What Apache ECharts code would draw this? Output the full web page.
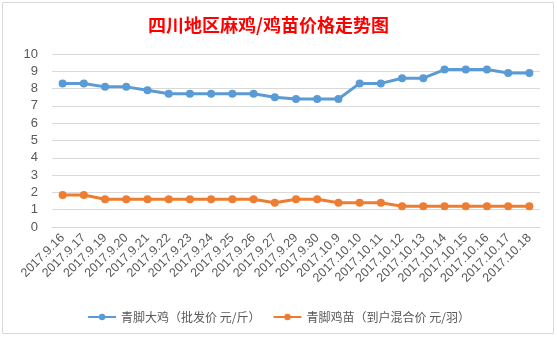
<!DOCTYPE html>
<html><head><meta charset="utf-8">
<script src="https://cdn.jsdelivr.net/npm/echarts@6/dist/echarts.min.js"></script>
<style>html,body{margin:0;padding:0;background:#fff}#c{width:557px;height:338px}</style>
</head><body><div id="c"></div>
<script>
const categories = ['2017.9.16','2017.9.17','2017.9.19','2017.9.20','2017.9.21','2017.9.22','2017.9.23','2017.9.24','2017.9.25','2017.9.26','2017.9.27','2017.9.29','2017.9.30','2017.10.9','2017.10.10','2017.10.11','2017.10.12','2017.10.13','2017.10.14','2017.10.15','2017.10.16','2017.10.17','2017.10.18'];
const broilerName = '青脚大鸡（批发价 元/斤）';
const broiler = [8.3,8.3,8.1,8.1,7.9,7.7,7.7,7.7,7.7,7.7,7.5,7.4,7.4,7.4,8.3,8.3,8.6,8.6,9.1,9.1,9.1,8.9,8.9];
const chickName = '青脚鸡苗（到户混合价 元/羽）';
const chick = [1.85,1.85,1.6,1.6,1.6,1.6,1.6,1.6,1.6,1.6,1.4,1.6,1.6,1.4,1.4,1.4,1.2,1.2,1.2,1.2,1.2,1.2,1.2];
const yTicks = {min:0, max:10, interval:1};
const title = '四川地区麻鸡/鸡苗价格走势图';

const font = '"Noto Sans CJK SC", "Microsoft YaHei", sans-serif';
const chart = echarts.init(document.getElementById('c'), null, {renderer:'canvas'});
chart.setOption({
  animation:false,
  backgroundColor:'#fff',
  graphic:[{type:'rect', shape:{x:2.5,y:2.5,width:551,height:331}, style:{fill:'none', stroke:'#d9d9d9', lineWidth:1}}],
  title:{text:title, left:143, top:11, textStyle:{color:'#ff0000', fontSize:18, fontWeight:'bold', fontFamily:font}},
  legend:{bottom:10, left:'center', itemWidth:28, itemHeight:8, itemGap:12,
    textStyle:{color:'#595959', fontSize:12, fontFamily:font},
    data:[broilerName, chickName]},
  grid:{left:52, right:17, top:54, bottom:111, containLabel:false},
  xAxis:{type:'category', data:categories, boundaryGap:true,
    axisLine:{show:true, lineStyle:{color:'#d9d9d9'}}, axisTick:{show:false},
    axisLabel:{rotate:45, interval:0, color:'#595959', fontSize:12.5, fontFamily:'"Liberation Sans", Arial, sans-serif', margin:9}},
  yAxis:{type:'value', min:yTicks.min, max:yTicks.max, interval:yTicks.interval,
    axisLine:{show:false}, axisTick:{show:false},
    axisLabel:{color:'#595959', fontSize:13, fontFamily:'"Liberation Sans", Arial, sans-serif', margin:14},
    splitLine:{lineStyle:{color:'#d9d9d9', width:1}}},
  series:[
    {name:broilerName, type:'line', data:broiler, symbol:'circle', symbolSize:8,
      itemStyle:{color:'#5b9bd5'}, lineStyle:{color:'#5b9bd5', width:3}},
    {name:chickName, type:'line', data:chick, symbol:'circle', symbolSize:8,
      itemStyle:{color:'#ed7d31'}, lineStyle:{color:'#ed7d31', width:3}}
  ]
});
</script></body></html>
